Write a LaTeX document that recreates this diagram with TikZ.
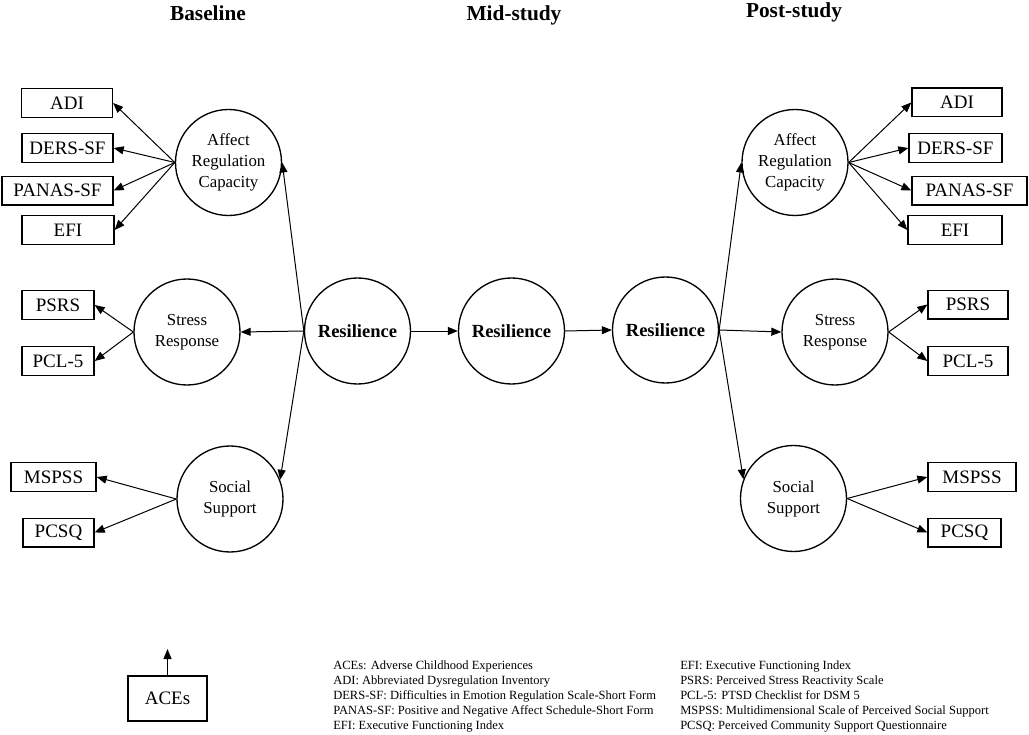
\documentclass[tikz,border=0pt]{standalone}
\usepackage{fontspec}
\setmainfont{Liberation Serif}
\usetikzlibrary{arrows.meta}

\begin{document}
\begin{tikzpicture}
  [x=0.75pt,y=-0.75pt,
   every node/.style={font=\fontsize{14.25}{16}\selectfont},
   lat/.style={circle,draw,line width=1pt,minimum size=79.5pt,inner sep=0pt,
     align=center,font=\fontsize{12.6}{15.75}\selectfont},
   res/.style={lat,font=\fontsize{13.9}{16}\selectfont\bfseries},
   obs/.style={draw,line width=1pt,minimum width=#1,minimum height=21.5pt,inner sep=1pt},
   hd/.style={font=\fontsize{16}{18}\selectfont\bfseries},
   leg/.style={align=left,anchor=north west,inner sep=0pt,font=\fontsize{9.4}{11.1}\selectfont},
   arr/.style={-{Triangle[length=7.5pt,width=6pt]},line width=0.75pt}]
  \useasboundingbox (0,0) rectangle (1029,735);

  % time points
  \node[hd] (h1) at (208,13) {Baseline};
  \node[hd] (h2) at (514,15) {Mid-study};
  \node[hd] (h3) at (794,12) {Post-study};

  % resilience
  \node[res] (r1) at (357.5,331) {Resilience};
  \node[res] (r2) at (511.5,331) {Resilience};
  \node[res] (r3) at (665.5,330) {Resilience};

  % baseline factors
  \node[lat] (aL) at (228.5,162.5) {Affect\\Regulation\\Capacity};
  \node[lat] (sL) at (187,332) {Stress\\Response};
  \node[lat] (oL) at (230,499) {Social\\Support};
  \node[obs=68.25pt] (adiL) at (67,103) {ADI};
  \node[obs=68.25pt] (dersL) at (67.5,148) {DERS-SF};
  \node[obs=83.25pt] (panL) at (57.5,190.5) {PANAS-SF};
  \node[obs=69pt] (efiL) at (68,230) {EFI};
  \node[obs=54pt] (psrsL) at (58,305) {PSRS};
  \node[obs=54pt] (pclL) at (58,361) {PCL-5};
  \node[obs=63.75pt] (mspL) at (53.5,477) {MSPSS};
  \node[obs=53.25pt] (pcsL) at (58.5,532.5) {PCSQ};

  % post-study factors
  \node[lat] (aR) at (795,162.5) {Affect\\Regulation\\Capacity};
  \node[lat] (sR) at (835,332) {Stress\\Response};
  \node[lat] (oR) at (793.5,498.5) {Social\\Support};
  \node[obs=67.5pt] (adiR) at (957,102.5) {ADI};
  \node[obs=69.75pt] (dersR) at (955.5,148) {DERS-SF};
  \node[obs=86.25pt] (panR) at (969.5,190.5) {PANAS-SF};
  \node[obs=70.5pt] (efiR) at (955,230) {EFI};
  \node[obs=60pt] (psrsR) at (968,304.5) {PSRS};
  \node[obs=60pt] (pclR) at (968,361) {PCL-5};
  \node[obs=66pt] (mspR) at (972,477) {MSPSS};
  \node[obs=54.75pt] (pcsR) at (964.5,532.5) {PCSQ};

  \node[obs=59.25pt,minimum height=33.75pt] (ace) at (167.5,698.5) {ACEs};
  \coordinate (up) at (167.5,649);

  \foreach \from/\to in {aL.west/adiL.east,aL.west/dersL.east,aL.west/panL.east,aL.west/efiL.east,
      sL.west/psrsL.east,sL.west/pclL.east,oL.west/mspL.east,oL.west/pcsL.east,
      aR.east/adiR.west,aR.east/dersR.west,aR.east/panR.west,aR.east/efiR.west,
      sR.east/psrsR.west,sR.east/pclR.west,oR.east/mspR.west,oR.east/pcsR.west,
      r1.west/aL.east,r1.west/sL.east,r1.west/oL.21,r1.east/r2.west,r2.east/r3.west,
      r3.east/aR.west,r3.east/sR.west,r3.east/oR.159,ace.north/up}
    \draw[arr] (\from) -- (\to);

  % abbreviations
  \node[leg] (lg1) at (333,661) {ACEs: Adverse Childhood Experiences\\
    ADI: Abbreviated Dysregulation Inventory\\
    DERS-SF: Difficulties in Emotion Regulation Scale-Short Form\\
    PANAS-SF: Positive and Negative Affect Schedule-Short Form\\
    EFI: Executive Functioning Index};
  \node[leg] (lg2) at (680,661) {EFI: Executive Functioning Index\\
    PSRS: Perceived Stress Reactivity Scale\\
    PCL-5: PTSD Checklist for DSM 5\\
    MSPSS: Multidimensional Scale of Perceived Social Support\\
    PCSQ: Perceived Community Support Questionnaire};
\end{tikzpicture}
\end{document}
